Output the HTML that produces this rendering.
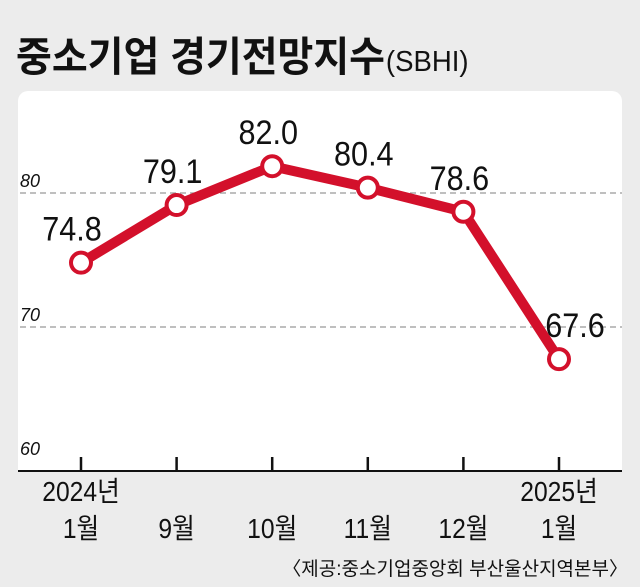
<!DOCTYPE html>
<html><head><meta charset="utf-8"><style>
body{margin:0;background:#ececec;width:640px;height:587px;overflow:hidden;font-family:"Liberation Sans","Noto Sans CJK KR",sans-serif}
svg{position:absolute;left:0;top:0}
</style></head><body>
<svg width="640" height="587">
<text transform="translate(16,71) scale(0.95,1)" font-size="41" font-weight="bold" fill="#111" font-family="Liberation Sans, Noto Sans CJK KR, sans-serif">중소기업 경기전망지수<tspan font-size="29" font-weight="normal" dx="1">(SBHI)</tspan></text>
<path d="M18 471 V101 a10 10 0 0 1 10 -10 H612 a10 10 0 0 1 10 10 V471 Z" fill="#fff"/>
<g id="grid"></g>
<line x1="18" y1="471" x2="622" y2="471" stroke="#111" stroke-width="2"/>
<g id="marks"></g>
<text x="628" y="575" font-size="19" text-anchor="end" fill="#111">〈제공:중소기업중앙회 부산울산지역본부〉</text>
</svg>
<script>
const categories=["1월","9월","10월","11월","12월","1월"];
const years=["2024년","","","","","2025년"];
const values=[74.8,79.1,82.0,80.4,78.6,67.6];
const yTicks=[60,70,80];
const NS="http://www.w3.org/2000/svg";
const x=i=>81+i*95.6;
const y=v=>461-(v-60)*13.4;
function mk(t,a,p){const e=document.createElementNS(NS,t);for(const k in a)e.setAttribute(k,a[k]);p.appendChild(e);return e;}
const g=document.getElementById('grid'),m=document.getElementById('marks');
yTicks.forEach(t=>{
 if(t>60){const l=mk('line',{x1:20,x2:622,y1:y(t),y2:y(t),stroke:'#999','stroke-width':1.3,'stroke-dasharray':'6 4'},g);
 
 }
 const tx=mk('text',{x:20,y:y(t)-6,'font-size':18,'font-style':'italic',fill:'#111'},g);tx.textContent=t;
 
 
});
categories.forEach((c,i)=>{
 const tk=mk('line',{x1:x(i),x2:x(i),y1:457,y2:471,stroke:'#111','stroke-width':2.5},g);
 
 
 if(years[i]){const yt=mk('text',{transform:'translate('+x(i)+',501) scale(0.88,1)','font-size':28,'text-anchor':'middle',fill:'#111'},g);yt.textContent=years[i];
 
 }
 const ct=mk('text',{transform:'translate('+x(i)+',538) scale(0.88,1)','font-size':28,'text-anchor':'middle',fill:'#111'},g);ct.textContent=c;
 
 
});
const pts=values.map((v,i)=>x(i)+','+y(v)).join(' ');
const pl=mk('polyline',{points:pts,fill:'none',stroke:'#d3102b','stroke-width':10,'stroke-linejoin':'round'},m);


values.forEach((v,i)=>{
 const c=mk('circle',{cx:x(i),cy:y(v),r:10,fill:'#fff',stroke:'#d3102b','stroke-width':4},m);
 
 
 const dx=i===5?16:(i===0?-9:-4);
 const t=mk('text',{transform:'translate('+(x(i)+dx)+','+(y(v)-22)+') scale(0.9,1)','font-size':34,'text-anchor':'middle',fill:'#111'},m);t.textContent=v.toFixed(1);
 
 
});
</script>
</body></html>
